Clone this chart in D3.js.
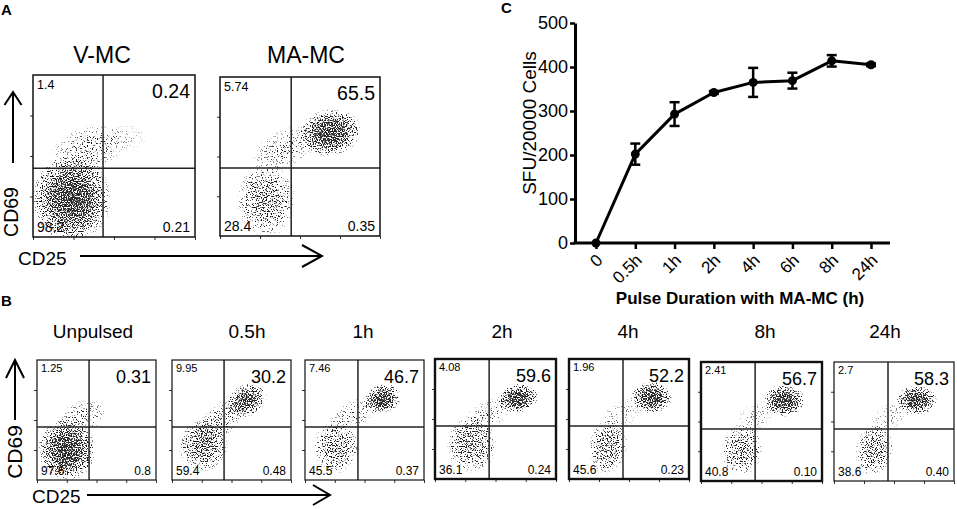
<!DOCTYPE html>
<html>
<head>
<meta charset="utf-8">
<script src="https://cdn.jsdelivr.net/npm/d3@7/dist/d3.min.js"></script>
<style>
  body { margin: 0; background: #fff; }
  svg { display: block; font-family: "Liberation Sans", Arial, sans-serif; }
</style>
</head>
<body>
<div id="fig"></div>
<script>
// ---------------- data ----------------
// panel C : ELISPOT
var pulseTimes = ['0', '0.5h', '1h', '2h', '4h', '6h', '8h', '24h'];
var sfuMean = [0, 202, 293, 342, 365, 369, 414, 405];
var sfuErr = [0, 24, 27, 3, 33, 18, 13, 3];
var sfuTicks = [0, 100, 200, 300, 400, 500];

// panel A : flow plots
var aTitles = ['V-MC', 'MA-MC'];
var aUL = ['1.4', '5.74'];
var aUR = ['0.24', '65.5'];
var aLL = ['98.2', '28.4'];
var aLR = ['0.21', '0.35'];
// quadrant gates (log decades CD25, CD69)
var aGateX = [1.73, 1.78];
var aGateY = [1.70, 1.71];
// cell populations: [CD25 centre, CD69 centre, spread x, spread y, density, tilt] in decades
var aPops = [
  [[0.95, 0.95, 1.0, 1.1, 0.95, 0], [1.35, 2.15, 1.0, 0.6, 0.35, 20], [2.3, 2.45, 0.5, 0.35, 0.15, 0]],
  [[2.75, 2.6, 0.8, 0.6, 0.95, 10], [1.15, 0.9, 0.75, 0.95, 0.55, 0], [1.6, 2.2, 0.9, 0.5, 0.3, 25]]
];

// panel B
var bTitles = ['Unpulsed', '0.5h', '1h', '2h', '4h', '8h', '24h'];
var bUL = ['1.25', '9.95', '7.46', '4.08', '1.96', '2.41', '2.7'];
var bUR = ['0.31', '30.2', '46.7', '59.6', '52.2', '56.7', '58.3'];
var bLL = ['97.6', '59.4', '45.5', '36.1', '45.6', '40.8', '38.6'];
var bLR = ['0.8', '0.48', '0.37', '0.24', '0.23', '0.10', '0.40'];
var bGateX = [1.75, 1.75, 1.78, 1.79, 1.8, 1.79, 1.8];
var bGateY = [1.77, 1.77, 1.77, 1.77, 1.77, 1.75, 1.75];
var bPops = [
  [[1.0, 1.0, 1.0, 1.05, 0.95, 0], [1.5, 2.1, 0.9, 0.55, 0.35, 20]],
  [[2.5, 2.65, 0.75, 0.55, 0.85, 30], [1.05, 1.15, 0.85, 0.9, 0.65, 0], [1.6, 1.95, 1.0, 0.55, 0.4, 40]],
  [[2.6, 2.7, 0.65, 0.5, 0.95, 20], [1.05, 1.1, 0.8, 0.9, 0.55, 0], [1.6, 2.15, 0.9, 0.5, 0.3, 30]],
  [[2.75, 2.7, 0.7, 0.5, 0.95, 10], [1.2, 1.15, 0.85, 0.95, 0.6, 0], [1.7, 2.1, 0.9, 0.5, 0.3, 30]],
  [[2.75, 2.72, 0.7, 0.55, 0.95, 0], [1.3, 1.1, 0.65, 0.95, 0.6, -10], [1.8, 2.2, 0.8, 0.45, 0.2, 30]],
  [[2.75, 2.7, 0.7, 0.55, 0.95, 0], [1.35, 1.05, 0.7, 0.9, 0.55, -10], [1.8, 2.15, 0.8, 0.45, 0.2, 30]],
  [[2.75, 2.72, 0.7, 0.5, 0.95, 0], [1.35, 1.05, 0.65, 0.9, 0.55, -10], [1.9, 2.2, 0.8, 0.45, 0.2, 30]]
];

// ---------------- layout ----------------
var width = 957, height = 509;
var aBoxes = [{x: 33, y: 75, w: 162, h: 162}, {x: 220, y: 77, w: 160, h: 159}];
var aTitleX = [102, 306];
var bBoxes = [
  {x: 37, y: 360, w: 119, h: 120, sw: 1.2},
  {x: 172, y: 360, w: 119, h: 120, sw: 1.2},
  {x: 305, y: 360, w: 119, h: 120, sw: 1.2},
  {x: 435, y: 359, w: 121, h: 120, sw: 2.4},
  {x: 569, y: 359, w: 120, h: 120, sw: 2.4},
  {x: 701, y: 362, w: 121, h: 119, sw: 2.4},
  {x: 834, y: 362, w: 120, h: 119, sw: 1.2}
];
var bTitleX = [93, 247, 363, 502, 628, 765, 885];

var svg = d3.select('#fig').append('svg').attr('width', width).attr('height', height);
var defs = svg.append('defs');

// speckle filter: turns a smooth density into scattered dots
var filt = defs.append('filter').attr('id', 'speckle')
  .attr('x', '-10%').attr('y', '-10%').attr('width', '120%').attr('height', '120%')
  .attr('color-interpolation-filters', 'sRGB');
filt.append('feTurbulence').attr('type', 'fractalNoise').attr('baseFrequency', 0.8)
  .attr('numOctaves', 1).attr('seed', 7).attr('result', 'noise');
filt.append('feColorMatrix').attr('in', 'noise').attr('type', 'matrix')
  .attr('values', '0 0 0 0 0  0 0 0 0 0  0 0 0 0 0  3 0 0 0 -1').attr('result', 'n');
filt.append('feComposite').attr('in', 'SourceGraphic').attr('in2', 'n').attr('operator', 'arithmetic')
  .attr('k1', 0).attr('k2', 1).attr('k3', -1).attr('k4', 0).attr('result', 'd');
var ct = filt.append('feComponentTransfer').attr('in', 'd');
ct.append('feFuncA').attr('type', 'linear').attr('slope', 3.5).attr('intercept', 0);

var grad = defs.append('radialGradient').attr('id', 'cloud');
[[0, 1], [0.45, 0.8], [0.8, 0.4], [1, 0]].forEach(function (s) {
  grad.append('stop').attr('offset', s[0]).attr('stop-color', '#1a1a1a').attr('stop-opacity', s[1]);
});

function panelLetter(txt, x, y) {
  svg.append('text').attr('x', x).attr('y', y).attr('font-size', 15)
    .attr('font-weight', 'bold').text(txt);
}

function arrow(x1, y1, x2, y2, depth, half) {
  var g = svg.append('g').attr('stroke', '#000').attr('stroke-width', 2).attr('fill', 'none');
  g.append('line').attr('x1', x1).attr('y1', y1).attr('x2', x2).attr('y2', y2);
  var dx = x2 - x1, dy = y2 - y1, L = Math.sqrt(dx * dx + dy * dy);
  var ux = dx / L, uy = dy / L;
  g.append('path').attr('d', 'M' + (x2 - ux * depth - uy * half) + ',' + (y2 - uy * depth + ux * half) +
    'L' + x2 + ',' + y2 + 'L' + (x2 - ux * depth + uy * half) + ',' + (y2 - uy * depth - ux * half));
}

var clipId = 0;
function flowPlot(box, gx, gy, pops, labels, fonts, sw) {
  var xs = d3.scaleLinear().domain([0, 4]).range([box.x, box.x + box.w]);
  var ys = d3.scaleLinear().domain([0, 4]).range([box.y + box.h, box.y]);
  var g = svg.append('g');

  var id = 'clip' + (clipId++);
  defs.append('clipPath').attr('id', id).append('rect')
    .attr('x', box.x).attr('y', box.y).attr('width', box.w).attr('height', box.h);

  var cloud = g.append('g').attr('clip-path', 'url(#' + id + ')')
    .append('g').attr('filter', 'url(#speckle)');
  cloud.append('rect').attr('x', box.x - 2).attr('y', box.y - 2)
    .attr('width', box.w + 4).attr('height', box.h + 4).attr('fill', '#fff').attr('fill-opacity', 0.001);
  cloud.selectAll('ellipse').data(pops).enter().append('ellipse')
    .attr('transform', function (d) { return 'translate(' + xs(d[0]) + ',' + ys(d[1]) + ') rotate(' + (-d[5]) + ')'; })
    .attr('rx', function (d) { return xs(d[2]) - xs(0); })
    .attr('ry', function (d) { return ys(0) - ys(d[3]); })
    .attr('fill', 'url(#cloud)')
    .attr('fill-opacity', function (d) { return d[4]; });

  // log ticks on the edges
  var lx = d3.scaleLog().domain([1, 1e4]).range([box.x, box.x + box.w]);
  var ly = d3.scaleLog().domain([1, 1e4]).range([box.y + box.h, box.y]);
  var ax = g.append('g').attr('transform', 'translate(0,' + (box.y + box.h) + ')')
    .call(d3.axisBottom(lx).ticks(4).tickSize(3).tickFormat(''));
  var ay = g.append('g').attr('transform', 'translate(' + box.x + ',0)')
    .call(d3.axisLeft(ly).tickValues([10, 100, 1000]).tickSize(3).tickFormat(''));
  [ax, ay].forEach(function (a) {
    a.select('.domain').remove();
    a.selectAll('line').attr('stroke', '#333').attr('stroke-width', 1);
  });

  // quadrant lines
  g.append('line').attr('x1', xs(gx)).attr('x2', xs(gx)).attr('y1', box.y).attr('y2', box.y + box.h)
    .attr('stroke', '#222').attr('stroke-width', 1.5);
  g.append('line').attr('x1', box.x).attr('x2', box.x + box.w).attr('y1', ys(gy)).attr('y2', ys(gy))
    .attr('stroke', '#222').attr('stroke-width', 1.5);
  g.append('rect').attr('x', box.x).attr('y', box.y).attr('width', box.w).attr('height', box.h)
    .attr('fill', 'none').attr('stroke', '#111').attr('stroke-width', sw);

  // quadrant percentages
  g.append('text').attr('x', box.x + 4).attr('y', box.y + fonts[0] + 1).attr('font-size', fonts[0]).text(labels[0]);
  g.append('text').attr('x', box.x + box.w - 5).attr('y', box.y + 23).attr('font-size', fonts[1])
    .attr('text-anchor', 'end').text(labels[1]);
  g.append('text').attr('x', box.x + 4).attr('y', box.y + box.h - 5).attr('font-size', fonts[2]).text(labels[2]);
  g.append('text').attr('x', box.x + box.w - 5).attr('y', box.y + box.h - 5).attr('font-size', fonts[3])
    .attr('text-anchor', 'end').text(labels[3]);
}

// ---------------- panel A ----------------
panelLetter('A', 1, 15);
aTitles.forEach(function (t, i) {
  svg.append('text').attr('x', aTitleX[i]).attr('y', 63).attr('text-anchor', 'middle')
    .attr('font-size', 23).text(t);
  flowPlot(aBoxes[i], aGateX[i], aGateY[i], aPops[i], [aUL[i], aUR[i], aLL[i], aLR[i]], [12.5, 19.5, 14, 14], 1.5);
});
arrow(13, 163, 13, 92, 13, 8.5);
svg.append('text').attr('transform', 'translate(18,212) rotate(-90)').attr('text-anchor', 'middle')
  .attr('font-size', 19.5).text('CD69');
svg.append('text').attr('x', 18).attr('y', 265).attr('font-size', 19).text('CD25');
arrow(80, 256, 322, 256, 20, 11);

// ---------------- panel B ----------------
panelLetter('B', 1, 306);
bTitles.forEach(function (t, i) {
  svg.append('text').attr('x', bTitleX[i]).attr('y', 338).attr('text-anchor', 'middle')
    .attr('font-size', 19).text(t);
  flowPlot(bBoxes[i], bGateX[i], bGateY[i], bPops[i], [bUL[i], bUR[i], bLL[i], bLR[i]], [11, 18, 12, 12], bBoxes[i].sw);
});
arrow(15, 420, 15, 360, 18, 9);
svg.append('text').attr('transform', 'translate(22,452) rotate(-90)').attr('text-anchor', 'middle')
  .attr('font-size', 21).text('CD69');
svg.append('text').attr('x', 32).attr('y', 503).attr('font-size', 19).text('CD25');
arrow(87, 495, 330, 495, 17, 10);

// ---------------- panel C ----------------
panelLetter('C', 501, 13);
var xC = d3.scalePoint().domain(pulseTimes).range([596, 871]);
var yC = d3.scaleLinear().domain([0, 500]).range([243, 23]);
var gC = svg.append('g');

var yAx = gC.append('g').attr('transform', 'translate(575,0)')
  .call(d3.axisLeft(yC).tickValues(sfuTicks).tickSize(5).tickSizeOuter(0).tickPadding(2));
yAx.select('.domain').attr('stroke', '#000').attr('stroke-width', 3);
yAx.selectAll('.tick line').attr('stroke', '#000').attr('stroke-width', 2.5);
yAx.selectAll('text').attr('font-size', 18).attr('fill', '#000')
  .attr('font-family', '"Liberation Sans", Arial, sans-serif');

var xAx = gC.append('g').attr('transform', 'translate(0,243)')
  .call(d3.axisBottom(xC).tickSize(6).tickSizeOuter(0));
xAx.select('.domain').remove();
xAx.selectAll('.tick line').attr('stroke', '#000').attr('stroke-width', 2.5);
xAx.selectAll('text').attr('font-size', 17).attr('fill', '#000')
  .attr('font-family', '"Liberation Sans", Arial, sans-serif')
  .attr('x', 0).attr('y', 0).attr('dy', '0.35em').attr('text-anchor', 'end')
  .attr('transform', 'translate(3,14) rotate(-45)');
gC.append('line').attr('x1', 573.5).attr('x2', 890).attr('y1', yC(0)).attr('y2', yC(0))
  .attr('stroke', '#000').attr('stroke-width', 3);

gC.append('path').datum(sfuMean)
  .attr('d', d3.line().x(function (d, i) { return xC(pulseTimes[i]); }).y(function (d) { return yC(d); }))
  .attr('fill', 'none').attr('stroke', '#000').attr('stroke-width', 3).attr('stroke-linejoin', 'round');

var eb = gC.append('g').attr('stroke', '#000').attr('stroke-width', 2.5);
sfuMean.forEach(function (m, i) {
  if (!sfuErr[i]) return;
  var x = xC(pulseTimes[i]);
  eb.append('line').attr('x1', x).attr('x2', x).attr('y1', yC(m - sfuErr[i])).attr('y2', yC(m + sfuErr[i]));
  [m - sfuErr[i], m + sfuErr[i]].forEach(function (v) {
    eb.append('line').attr('x1', x - 5).attr('x2', x + 5).attr('y1', yC(v)).attr('y2', yC(v));
  });
});
gC.selectAll('circle.pt').data(sfuMean).enter().append('circle').attr('class', 'pt')
  .attr('cx', function (d, i) { return xC(pulseTimes[i]); })
  .attr('cy', function (d) { return yC(d); })
  .attr('r', 4.5).attr('fill', '#000');

gC.append('text').attr('transform', 'translate(536,123) rotate(-90)').attr('text-anchor', 'middle')
  .attr('font-size', 19).text('SFU/20000 Cells');
gC.append('text').attr('x', 740).attr('y', 304).attr('text-anchor', 'middle')
  .attr('font-size', 17).attr('font-weight', 'bold').text('Pulse Duration with MA-MC (h)');
</script>
</body>
</html>
